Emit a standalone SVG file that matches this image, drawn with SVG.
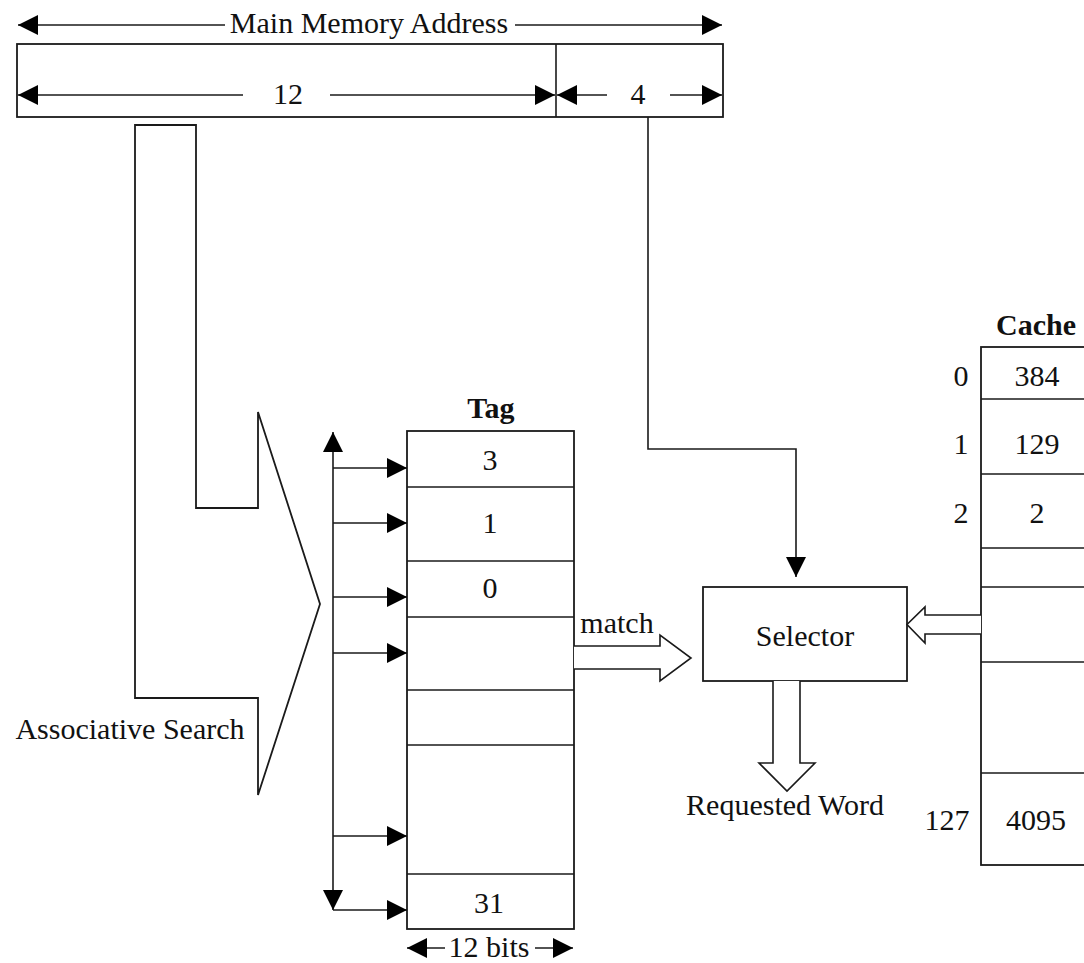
<svg xmlns="http://www.w3.org/2000/svg" width="1084" height="963" viewBox="0 0 1084 963">
<style>
.ln{stroke:#1a1a1a;stroke-width:1.6;fill:none}
.bx{stroke:#1a1a1a;stroke-width:1.8;fill:#fff}
.hollow{stroke:#1a1a1a;stroke-width:1.6;fill:#fff}
.t{font-family:"Liberation Serif","Times New Roman",serif;font-size:30px;fill:#111;text-anchor:middle}
.b{font-weight:bold}
.a{marker-end:url(#ah)}
.a2{marker-start:url(#ah);marker-end:url(#ah)}
</style>
<defs>
<marker id="ah" viewBox="0 0 20 20" refX="20" refY="10" markerWidth="20" markerHeight="20" markerUnits="userSpaceOnUse" orient="auto-start-reverse">
<path d="M0,0 L20,10 L0,20 z" fill="#000"/>
</marker>
</defs>
<rect width="1084" height="963" fill="#fff"/>

<g id="address">
<rect class="bx" x="17" y="44" width="706" height="73"/>
<line class="ln" x1="556" y1="44" x2="556" y2="117"/>
<text class="t" x="369" y="33">Main Memory Address</text>
<text class="t" x="288" y="104">12</text>
<text class="t" x="638" y="104">4</text>
</g>

<g id="search">
<path class="bx" d="M135,125 H196 V508 H258 V412 L320,604 L258,795 V698 H135 Z"/>
<text class="t" x="130" y="739">Associative Search</text>
</g>

<g id="tag">
<text class="t b" x="491" y="418">Tag</text>
<rect class="bx" x="407" y="431" width="167" height="498"/>
<line class="ln" x1="407" y1="487" x2="574" y2="487"/>
<line class="ln" x1="407" y1="561" x2="574" y2="561"/>
<line class="ln" x1="407" y1="617" x2="574" y2="617"/>
<line class="ln" x1="407" y1="690" x2="574" y2="690"/>
<line class="ln" x1="407" y1="745" x2="574" y2="745"/>
<line class="ln" x1="407" y1="874" x2="574" y2="874"/>
<text class="t" x="490" y="470">3</text>
<text class="t" x="490" y="533">1</text>
<text class="t" x="490" y="598">0</text>
<text class="t" x="489" y="913">31</text>
<text class="t" x="489" y="957">12 bits</text>
</g>

<g id="selector">
<rect class="bx" x="703" y="587" width="204" height="94"/>
<text class="t" x="805" y="646">Selector</text>
<text class="t" x="785" y="815">Requested Word</text>
</g>

<g id="cache">
<text class="t b" x="1036" y="335">Cache</text>
<rect class="bx" x="981" y="347" width="200" height="518"/>
<line class="ln" x1="981" y1="399" x2="1084" y2="399"/>
<line class="ln" x1="981" y1="474" x2="1084" y2="474"/>
<line class="ln" x1="981" y1="548" x2="1084" y2="548"/>
<line class="ln" x1="981" y1="587" x2="1084" y2="587"/>
<line class="ln" x1="981" y1="662" x2="1084" y2="662"/>
<line class="ln" x1="981" y1="773" x2="1084" y2="773"/>
<text class="t" x="961" y="386">0</text>
<text class="t" x="1037" y="386">384</text>
<text class="t" x="961" y="454">1</text>
<text class="t" x="1037" y="454">129</text>
<text class="t" x="961" y="523">2</text>
<text class="t" x="1037" y="523">2</text>
<text class="t" x="947" y="830">127</text>
<text class="t" x="1036" y="830">4095</text>
</g>

<g id="connectors">
<line class="ln a" x1="225" y1="25" x2="18" y2="25"/>
<line class="ln a" x1="515" y1="25" x2="722" y2="25"/>
<line class="ln a" x1="243" y1="95" x2="18" y2="95"/>
<line class="ln a" x1="330" y1="95" x2="555" y2="95"/>
<line class="ln a" x1="607" y1="95" x2="557" y2="95"/>
<line class="ln a" x1="670" y1="95" x2="722" y2="95"/>
<polyline class="ln a" points="648,117 648,449 796,449 796,577"/>
<line class="ln a2" x1="333" y1="432" x2="333" y2="910"/>
<line class="ln a" x1="333" y1="468" x2="407" y2="468"/>
<line class="ln a" x1="333" y1="523" x2="407" y2="523"/>
<line class="ln a" x1="333" y1="597" x2="407" y2="597"/>
<line class="ln a" x1="333" y1="653" x2="407" y2="653"/>
<line class="ln a" x1="333" y1="836" x2="407" y2="836"/>
<line class="ln a" x1="333" y1="910" x2="407" y2="910"/>
<line class="ln a" x1="445" y1="948" x2="407" y2="948"/>
<line class="ln a" x1="535" y1="948" x2="573" y2="948"/>
<polyline class="hollow" points="574,646 660,646 660,635 691,658 660,681 660,669 574,669"/>
<text class="t" x="617" y="633">match</text>
<polyline class="hollow" points="981,615 925,615 925,607 907,624.5 925,643 925,634 981,634"/>
<polyline class="hollow" points="773,681 773,763 759,763 787,791 815,763 800,763 800,681"/>
</g>
</svg>
